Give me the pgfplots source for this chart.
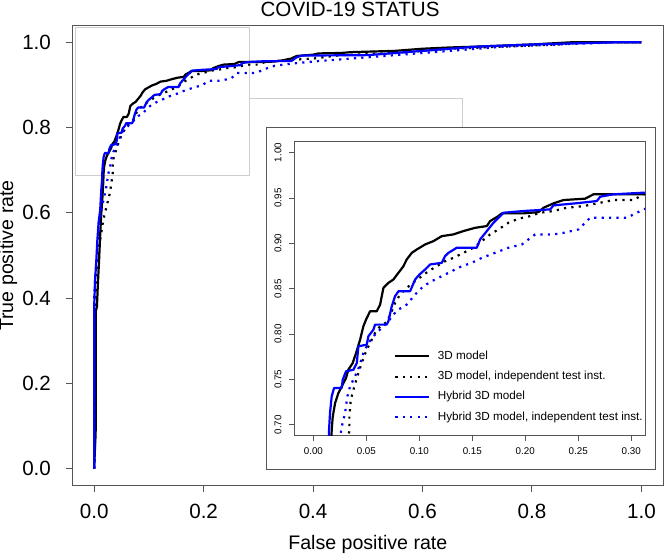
\documentclass[border=0pt]{standalone}
\usepackage{fontspec}
\setmainfont{Liberation Sans}
\usepackage{pgfplots}
\usepackage{pgfplotstable}
\pgfplotsset{compat=1.18}
\definecolor{axgray}{RGB}{85,85,85}
\definecolor{rectgray}{RGB}{205,205,205}
\definecolor{rblue}{RGB}{0,0,255}

\pgfplotstableread{
x y
0 0
0.003 0.10
0.003 0.37
0.005 0.38
0.007 0.44
0.009 0.49
0.011 0.55
0.013 0.60
0.015 0.635
0.0165 0.67
0.0173 0.6945
0.0183 0.7092
0.0205 0.7239
0.0236 0.735
0.0268 0.7423
0.0308 0.7515
0.033 0.7607
0.0371 0.768
0.0403 0.7791
0.0441 0.7938
0.0472 0.8086
0.0497 0.8159
0.0535 0.8251
0.0598 0.8251
0.063 0.8325
0.0661 0.8509
0.0708 0.8564
0.0755 0.8601
0.0803 0.8675
0.085 0.8748
0.0881 0.8822
0.0929 0.8895
0.0976 0.8932
0.1054 0.8987
0.1133 0.9024
0.1212 0.9079
0.1322 0.9098
0.1416 0.9135
0.1527 0.9171
0.1637 0.919
0.1668 0.9245
0.1737 0.9293
0.1778 0.933
0.1983 0.933
0.2125 0.9344
0.2172 0.9392
0.2266 0.944
0.2361 0.9477
0.2565 0.9492
0.2644 0.954
0.3116 0.954
0.33 0.955
0.345 0.958
0.36 0.962
0.37 0.968
0.40 0.971
0.41 0.974
0.45 0.975
0.47 0.977
0.55 0.980
0.60 0.985
0.65 0.988
0.70 0.990
0.80 0.995
0.87 1.0
1.0 1.0
}\blacksolid

\pgfplotstableread{
x y
0 0
0.003 0.10
0.003 0.37
0.005 0.443
0.009 0.521
0.0167 0.584
0.0228 0.616
0.0289 0.6475
0.034 0.6945
0.034 0.7092
0.0353 0.7276
0.0378 0.7386
0.0415 0.7534
0.0456 0.7681
0.0497 0.781
0.0535 0.7902
0.0582 0.8012
0.063 0.8086
0.0692 0.813
0.074 0.8251
0.0771 0.8343
0.0818 0.8435
0.0881 0.8509
0.096 0.8583
0.1023 0.8638
0.1086 0.8693
0.1165 0.8748
0.1243 0.8803
0.1322 0.884
0.1416 0.8895
0.1511 0.8951
0.159 0.9024
0.1668 0.9098
0.1747 0.9153
0.1841 0.9227
0.1936 0.9271
0.2046 0.93
0.214 0.9337
0.2266 0.9356
0.2392 0.9392
0.255 0.941
0.2676 0.944
0.2833 0.9477
0.3022 0.9477
0.3116 0.954
0.35 0.958
0.40 0.962
0.45 0.970
0.55 0.975
0.65 0.985
0.75 0.990
0.85 0.995
0.90 1.0
1.0 1.0
}\blackdotted

\pgfplotstableread{
x y
0 0
0 0.38
0.0015 0.44
0.004 0.49
0.0055 0.53
0.008 0.577
0.011 0.608
0.013 0.655
0.0145 0.68
0.0148 0.6945
0.0157 0.7129
0.0173 0.7313
0.0195 0.7405
0.0268 0.7405
0.0277 0.7497
0.0308 0.7589
0.0378 0.7607
0.041 0.768
0.0425 0.7865
0.0504 0.7883
0.0519 0.7975
0.0567 0.8049
0.0582 0.8104
0.0692 0.8104
0.0708 0.8141
0.074 0.8307
0.0771 0.8417
0.0803 0.8472
0.0913 0.8472
0.096 0.8601
0.1001 0.8656
0.1054 0.8711
0.1102 0.8767
0.1212 0.8785
0.1243 0.8859
0.1275 0.8895
0.1353 0.8951
0.1542 0.8951
0.1574 0.9043
0.1637 0.9135
0.170 0.9227
0.1763 0.930
0.1794 0.9337
0.1983 0.9356
0.2235 0.9374
0.2266 0.9418
0.2487 0.9442
0.2676 0.9466
0.2707 0.9514
0.2833 0.954
0.3116 0.9558
0.36 0.956
0.37 0.965
0.38 0.969
0.50 0.970
0.55 0.975
0.60 0.980
0.70 0.990
0.80 0.995
0.95 1.0
1.0 1.0
}\bluesolid

\pgfplotstableread{
x y
0 0
0 0.40
0.002 0.45
0.005 0.50
0.008 0.56
0.012 0.60
0.017 0.63
0.022 0.66
0.0268 0.6982
0.0299 0.7129
0.0321 0.7313
0.0346 0.7423
0.0393 0.7534
0.0434 0.7644
0.0472 0.7791
0.0519 0.7902
0.0582 0.7994
0.0645 0.8067
0.0708 0.8141
0.0755 0.8215
0.0803 0.827
0.0881 0.8325
0.096 0.8435
0.1039 0.8527
0.1117 0.8583
0.1212 0.8638
0.1306 0.8693
0.1401 0.8748
0.1495 0.8785
0.159 0.884
0.1715 0.8895
0.1841 0.8951
0.1967 0.8987
0.203 0.9043
0.2093 0.9098
0.2266 0.9098
0.2361 0.9116
0.2502 0.9153
0.2565 0.9227
0.2613 0.9282
0.2959 0.9282
0.3053 0.9337
0.3116 0.9374
0.33 0.945
0.36 0.950
0.40 0.955
0.45 0.960
0.55 0.970
0.65 0.980
0.75 0.990
0.85 0.995
0.95 1.0
1.0 1.0
}\bluedotted

\pgfplotsset{
  solidline/.style={line width=1.1pt, line join=round},
  dotline/.style={line width=1.1pt, dash pattern=on 1.1pt off 2.6pt},
}

\begin{document}
\begin{tikzpicture}
\useasboundingbox (-36.15pt,-34.65pt) rectangle (295.85pt,242.85pt);
\begin{axis}[
  at={(0pt,0pt)}, anchor=south west,
  scale only axis, width=295.5pt, height=230.2pt,
  xmin=-0.04, xmax=1.04, ymin=-0.04, ymax=1.04,
  axis line style={axgray, line width=0.5pt},
  tick style={axgray, line width=0.5pt},
  tick align=outside, tick pos=left,
  major tick length=3pt,
  xtick={0,0.2,0.4,0.6,0.8,1.0},
  ytick={0,0.2,0.4,0.6,0.8,1.0},
  xticklabel style={font=\fontsize{10.3}{12}\selectfont, inner sep=0pt},
  yticklabel style={font=\fontsize{10.3}{12}\selectfont, inner sep=0pt},
  xticklabel shift=5.8pt, yticklabel shift=7.5pt,
  /pgf/number format/.cd, fixed, fixed zerofill, precision=1, assume math mode=true,
  /pgfplots/.cd,
  xlabel={False positive rate},
  ylabel={True positive rate},
  xlabel style={font=\fontsize{9.8}{11}\selectfont, at={(axis description cs:0.5,-0.1377)}, anchor=base},
  ylabel style={font=\fontsize{9.8}{11}\selectfont, at={(axis description cs:-0.1002,0.5)}, anchor=base},
  title={COVID-19 STATUS},
  every axis title/.style={font=\fontsize{10.3}{12}\selectfont, at={(axis description cs:0.47,1.0193)}, anchor=base},
]
\draw[rectgray, line width=0.5pt] (axis cs:-0.0345,0.687) rectangle (axis cs:0.2846,1.035);
\draw[rectgray, line width=0.5pt] (axis cs:0.2846,0.8678) -- (axis cs:0.673,0.8678) -- (axis cs:0.673,0.8012);
\addplot[black, solidline] table {\blacksolid};
\addplot[black, dotline] table {\blackdotted};
\addplot[rblue, solidline] table {\bluesolid};
\addplot[rblue, dotline] table {\bluedotted};
\end{axis}
\filldraw[fill=white, draw=axgray, line width=0.5pt] (97.2pt,7.85pt) rectangle (291.7pt,179pt);
\begin{axis}[
  at={(111pt,25pt)}, anchor=south west,
  scale only axis, width=175.35pt, height=147pt,
  xmin=-0.018, xmax=0.313, ymin=0.688, ymax=1.012,
  axis line style={axgray, line width=0.5pt},
  tick style={axgray, line width=0.4pt},
  tick align=outside, tick pos=left,
  major tick length=2.5pt,
  xtick={0,0.05,0.1,0.15,0.2,0.25,0.3},
  ytick={0.7,0.75,0.8,0.85,0.9,0.95,1.0},
  xticklabel style={font=\fontsize{4.9}{6}\selectfont, inner sep=0pt},
  yticklabel style={font=\fontsize{4.9}{6}\selectfont, inner sep=0pt, rotate=90, anchor=south},
  xticklabel shift=3.25pt, yticklabel shift=3.75pt,
  /pgf/number format/.cd, fixed, fixed zerofill, precision=2, assume math mode=true,
  /pgfplots/.cd,
  legend image code/.code={\draw[#1] (0pt,0pt) -- (17pt,0pt);},
  legend cell align=left,
  legend style={at={(rel axis cs:0.284,0.2895)}, anchor=north west, draw=none, fill=none,
    font=\fontsize{5.85}{7}\selectfont, inner sep=0pt, row sep=4.75pt,
    nodes={inner sep=0pt, text height=4.2pt, text depth=1.2pt},
    /tikz/every odd column/.append style={column sep=3.7pt}},
]
\addplot[black, solidline] table {\blacksolid};
\addlegendentry{3D model}
\addplot[black, dotline] table {\blackdotted};
\addlegendentry{3D model, independent test inst.}
\addplot[rblue, solidline] table {\bluesolid};
\addlegendentry{Hybrid 3D model}
\addplot[rblue, dotline] table {\bluedotted};
\addlegendentry{Hybrid 3D model, independent test inst.}
\end{axis}
\end{tikzpicture}
\end{document}
